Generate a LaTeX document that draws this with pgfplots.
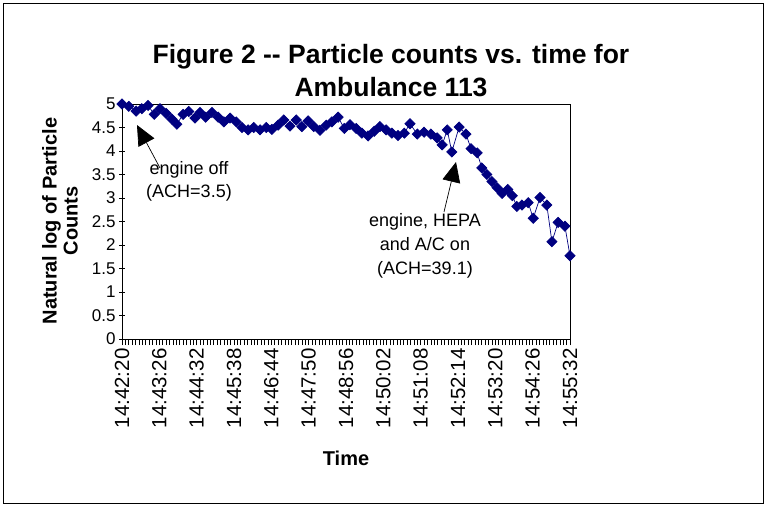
\documentclass[border=0pt]{standalone}
\usepackage{pgfplots}
\pgfplotsset{compat=1.18}
\usepackage{fontspec}
\setmainfont{Liberation Sans}
\usetikzlibrary{arrows.meta}
\definecolor{navyb}{RGB}{0,0,128}
\begin{document}
\begin{tikzpicture}[x=1pt,y=1pt]
\path[use as bounding box] (-122,-167) rectangle (645,339);
\draw[black,line width=0.6pt] (-119,-164) rectangle (641,336);
\begin{axis}[
  at={(0,0)}, anchor=south west,
  scale only axis, width=448pt, height=235pt,
  xmin=0, xmax=792, ymin=0, ymax=5,
  xtick={0,66,...,792},
  xticklabels={14:42:20,14:43:26,14:44:32,14:45:38,14:46:44,14:47:50,14:48:56,14:50:02,14:51:08,14:52:14,14:53:20,14:54:26,14:55:32},
  minor xtick={0,6,...,792},
  x tick label style={rotate=90, anchor=east, font=\fontsize{20.5}{22}\selectfont},
  ytick={0,0.5,...,5},
  yticklabels={0,0.5,1,1.5,2,2.5,3,3.5,4,4.5,5},
  y tick label style={font=\fontsize{17}{20}\selectfont},
  /pgf/number format/assume math mode=true,
  xtick align=outside, ytick align=center,
  major tick length=6pt, minor tick length=6pt,
  tick style={black, line width=0.6pt},
  xtick pos=bottom, ytick pos=left,
  axis line style={black, line width=0.8pt},
  clip=false,
]
\addplot[navyb, line width=0.7pt, mark=square*, mark size=3.6pt, mark options={rotate=45, fill=navyb, draw=navyb}] coordinates {
(0,5.00) (12,4.95) (25,4.85) (35,4.90) (46,4.97) (57,4.78) (67,4.90) (78,4.80)
(88,4.68) (97,4.57) (108,4.78) (118,4.84) (129,4.70) (138,4.82) (148,4.72) (159,4.82)
(170,4.72) (180,4.62) (191,4.70) (202,4.62) (212,4.50) (223,4.45) (233,4.50) (244,4.45)
(255,4.50) (265,4.46) (276,4.55) (286,4.66) (297,4.53) (308,4.66) (318,4.52) (329,4.64)
(339,4.52) (350,4.44) (361,4.55) (371,4.62) (382,4.72) (393,4.48) (403,4.56) (414,4.48)
(424,4.38) (435,4.32) (446,4.42) (456,4.52) (467,4.45) (477,4.38) (488,4.33) (499,4.38)
(509,4.58) (522,4.36) (534,4.40) (546,4.36) (557,4.28) (566,4.13) (575,4.45) (583,3.98)
(596,4.51) (608,4.36) (617,4.05) (628,3.96) (636,3.64) (645,3.50) (654,3.35) (663,3.22)
(672,3.10) (682,3.18) (690,3.05) (698,2.82) (707,2.85) (718,2.90) (727,2.57) (739,3.01)
(751,2.85) (760,2.07) (771,2.48) (783,2.40) (792,1.77)
};
\end{axis}
\node[font=\fontsize{26.5}{33}\selectfont\bfseries, align=center] at (269,268) {Figure 2 -{}- Particle counts vs. time for\\Ambulance 113};
\node[font=\fontsize{20}{21}\selectfont\bfseries, align=center, rotate=90] at (-62,118) {Natural log of Particle\\Counts};
\node[font=\fontsize{20}{22}\selectfont\bfseries] at (224,-119) {Time};
\node[font=\fontsize{18}{23}\selectfont, align=center] at (67,158) {engine off\\(ACH=3.5)};
\node[font=\fontsize{18}{24}\selectfont, align=center] at (303,93) {engine, HEPA\\and A/C on\\(ACH=39.1)};
\draw[line width=0.7pt, -{Triangle[length=20pt,width=18pt]}] (38,171) -- (15,214);
\draw[line width=0.7pt, -{Triangle[length=20pt,width=18pt]}] (322,127) -- (334,177);
\end{tikzpicture}
\end{document}
